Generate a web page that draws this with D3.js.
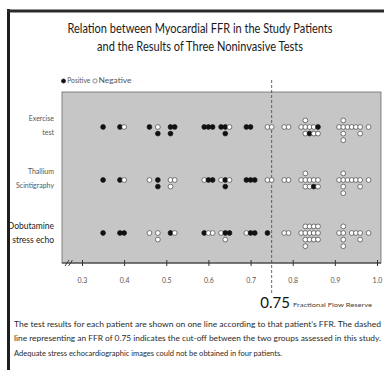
<!DOCTYPE html>
<html>
<head>
<meta charset="utf-8">
<script src="https://cdn.jsdelivr.net/npm/d3@7/dist/d3.min.js"></script>
<style>
  body { margin: 0; background: #fff; }
  svg { display: block; }
  text { font-family: Lato, "Open Sans", sans-serif; }
</style>
</head>
<body>
<svg id="chart" width="384" height="370"></svg>
<script>
// ---- data ---------------------------------------------------------------
const titleLines = [
  "Relation between Myocardial FFR in the Study Patients",
  "and the Results of Three Noninvasive Tests"
];
const testNames = ["Exercise test", "Thallium Scintigraphy", "Dobutamine stress echo"];
const testLabelLines = [["Exercise", "test"], ["Thallium", "Scintigraphy"], ["Dobutamine", "stress echo"]];
const legendLabels = ["Positive", "Negative"];
const ffrTicks = [0.3, 0.4, 0.5, 0.6, 0.7, 0.8, 0.9, 1.0];
const tickLabels = ["0.3", "0.4", "0.5", "0.6", "0.7", "0.8", "0.9", "1.0"];
const cutoff = 0.75;
const cutoffLabel = "0.75";
const axisTitle = "Fractional Flow Reserve";
const captionLines = [
  "The test results for each patient are shown on one line according to that patient\u2019s FFR. The dashed",
  "line representing an FFR of 0.75 indicates the cut-off between the two groups assessed in this study.",
  "Adequate stress echocardiographic images could not be obtained in four patients."
];

// each patient: [FFR, result] with 1 = positive, 0 = negative
const exerciseTest = [
  [0.35,1],[0.39,1],[0.40,0],[0.46,1],[0.48,0],[0.48,1],[0.51,1],[0.51,1],[0.52,1],
  [0.59,1],[0.60,1],[0.61,1],[0.63,1],[0.64,1],[0.64,1],[0.65,0],[0.69,1],[0.70,1],
  [0.74,0],[0.75,0],[0.78,0],[0.79,0],
  [0.82,0],[0.83,0],[0.83,0],[0.83,0],[0.84,0],[0.84,1],[0.85,0],[0.85,0],[0.86,1],[0.86,0],
  [0.91,0],[0.92,0],[0.92,0],[0.92,0],[0.92,0],[0.93,0],[0.94,0],[0.95,0],[0.96,0],[0.96,0],[0.98,0]
];
const thalliumScintigraphy = [
  [0.35,1],[0.39,1],[0.40,0],[0.46,0],[0.48,1],[0.48,1],[0.51,0],[0.51,0],[0.52,0],
  [0.59,0],[0.60,1],[0.61,1],[0.63,0],[0.64,1],[0.64,1],[0.65,0],[0.69,1],[0.70,1],[0.71,1],
  [0.74,0],[0.75,0],[0.78,0],[0.79,0],
  [0.82,0],[0.83,0],[0.83,0],[0.83,0],[0.84,0],[0.84,0],[0.85,0],[0.85,1],[0.86,0],[0.86,0],
  [0.91,0],[0.92,0],[0.92,0],[0.92,0],[0.92,0],[0.93,0],[0.94,0],[0.95,0],[0.96,0],[0.96,0],[0.98,0]
];
const dobutamineEcho = [
  [0.35,1],[0.39,1],[0.40,1],[0.46,0],[0.48,0],[0.48,0],[0.51,1],[0.52,0],
  [0.59,1],[0.60,0],[0.61,0],[0.63,0],[0.64,1],[0.64,0],[0.65,1],[0.69,0],[0.70,1],[0.71,1],[0.74,1],
  [0.78,0],[0.79,0],
  [0.82,0],[0.83,0],[0.83,0],[0.83,0],[0.83,0],[0.84,0],[0.84,0],[0.84,0],[0.85,0],[0.85,0],[0.85,0],[0.86,0],[0.86,0],[0.86,0],
  [0.91,0],[0.92,0],[0.92,0],[0.92,0],[0.92,0],[0.94,0],[0.95,0],[0.96,0],[0.96,0],[0.98,0]
];
const testResults = [exerciseTest, thalliumScintigraphy, dobutamineEcho];

// ---- layout -------------------------------------------------------------
const svg = d3.select("#chart");
const plot = { left: 62, right: 381, top: 92, bottom: 263 };
const x = d3.scaleLinear().domain([0.3, 1.0]).range([82, 377]);
const y = d3.scalePoint().domain(testNames).range([127, 233]);
const dotR = 2.4, stackStep = 6.6;
// order in which patients sharing an FFR value are stacked: on the line, below, above, ...
const stackOrder = [0, 1, -1, 2, -2, 3, -3];

// outer frame
svg.append("line").attr("x1", 8.5).attr("x2", 8.5).attr("y1", 9).attr("y2", 370)
  .attr("stroke", "#1e1e1e").attr("stroke-width", 3);
svg.append("line").attr("x1", 7).attr("x2", 384).attr("y1", 11).attr("y2", 11)
  .attr("stroke", "#2a2a2a").attr("stroke-width", 3);

// title
svg.selectAll("text.title").data(titleLines).join("text")
  .attr("class", "title")
  .attr("x", 200).attr("y", (d, i) => 33 + i * 17.5)
  .attr("text-anchor", "middle")
  .attr("font-size", 12.5).attr("fill", "#1a1a1a")
  .attr("textLength", (d, i) => [265, 206][i]).attr("lengthAdjust", "spacingAndGlyphs")
  .text(d => d);

// legend
const legend = svg.append("g").attr("transform", "translate(63.5,81)");
legend.append("circle").attr("cx", 0).attr("cy", 0).attr("r", 2.1).attr("fill", "#111").attr("stroke", "#111").attr("stroke-width", 0.6);
legend.append("text").attr("x", 3.8).attr("y", 2.4).attr("font-size", 7).attr("fill", "#555")
  .attr("textLength", 23).attr("lengthAdjust", "spacingAndGlyphs").text(legendLabels[0]);
legend.append("circle").attr("cx", 31.5).attr("cy", 0).attr("r", 2.1).attr("fill", "#fff").attr("stroke", "#444").attr("stroke-width", 0.6);
legend.append("text").attr("x", 35) .attr("y", 2.4).attr("font-size", 7).attr("fill", "#555")
  .attr("textLength", 33).attr("lengthAdjust", "spacingAndGlyphs").text(legendLabels[1]);

// plot panel
svg.append("rect")
  .attr("x", plot.left).attr("y", plot.top)
  .attr("width", plot.right - plot.left).attr("height", plot.bottom - plot.top)
  .attr("fill", "#c6c6c6").attr("stroke", "#6a6a6a").attr("stroke-width", 0.8);

// cut-off line
svg.append("line")
  .attr("x1", x(cutoff)).attr("x2", x(cutoff)).attr("y1", 80).attr("y2", 293)
  .attr("stroke", "#444").attr("stroke-width", 0.8).attr("stroke-dasharray", "3,2");

// x axis
const axis = d3.axisBottom(x).tickValues(ffrTicks).tickFormat((d, i) => tickLabels[i])
  .tickSizeInner(3).tickSizeOuter(0).tickPadding(12);
const gAxis = svg.append("g").attr("transform", `translate(0,${plot.bottom})`).call(axis);
gAxis.select(".domain").attr("d", `M${plot.left},0H${plot.right}`).attr("stroke", "#333").attr("stroke-width", 1.2);
gAxis.selectAll(".tick line").attr("y1", -3).attr("y2", 3).attr("stroke", "#333");
gAxis.selectAll(".tick text").attr("font-family", "Lato, sans-serif").attr("font-size", 7).attr("fill", "#555");
// axis break marks
gAxis.selectAll("path.break").data([67, 70.5]).join("path")
  .attr("class", "break")
  .attr("d", d => `M${d - 2},3L${d + 2},-3`)
  .attr("stroke", "#333").attr("stroke-width", 0.9).attr("fill", "none");

// axis annotation
svg.append("text").attr("x", x(cutoff) + 3.5).attr("y", 308).attr("text-anchor", "middle")
  .attr("font-size", 15).attr("fill", "#111").text(cutoffLabel);
svg.append("text").attr("x", 293).attr("y", 307).attr("font-size", 6).attr("fill", "#444")
  .attr("textLength", 79).attr("lengthAdjust", "spacingAndGlyphs").text(axisTitle);

// row labels
testLabelLines.forEach((lines, r) => {
  const big = r === 2;
  const cy = y(testNames[r]);
  svg.append("g").selectAll("text").data(lines).join("text")
    .attr("x", 54).attr("y", (d, i) => cy + (big ? -4 : -6) + i * 14)
    .attr("text-anchor", "end")
    .attr("font-size", big ? 8.5 : 7)
    .attr("fill", big ? "#222" : "#555")
    .text(d => d);
});

// patient dots, stacked where FFR values coincide
testResults.forEach((rows, r) => {
  const seen = new Map();
  const pts = rows.map(([ffr, pos]) => {
    const key = ffr.toFixed(2);
    const k = seen.get(key) || 0;
    seen.set(key, k + 1);
    return { ffr, pos, level: stackOrder[k] };
  });
  svg.append("g").selectAll("circle").data(pts).join("circle")
    .attr("cx", d => x(d.ffr))
    .attr("cy", d => y(testNames[r]) + d.level * stackStep)
    .attr("r", dotR)
    .attr("fill", d => d.pos ? "#111" : "#fff")
    .attr("stroke", d => d.pos ? "#111" : "#444")
    .attr("stroke-width", 0.7);
});

// caption
svg.selectAll("text.caption").data(captionLines).join("text")
  .attr("class", "caption")
  .attr("x", 14).attr("y", (d, i) => 327 + i * 14.3)
  .attr("font-size", 7.4).attr("fill", "#2a2a2a")
  .attr("textLength", (d, i) => [367, 367, 268][i]).attr("lengthAdjust", "spacingAndGlyphs")
  .text(d => d);
</script>
</body>
</html>
